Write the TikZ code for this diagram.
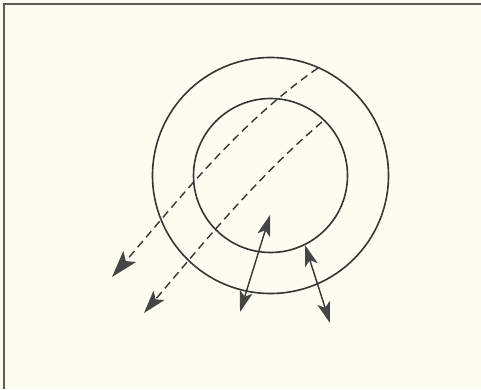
\documentclass[tikz,border=0pt]{standalone}
\usepackage{tikz}
\usetikzlibrary{arrows.meta}
\definecolor{dpaper}{HTML}{FDFCF1}
\definecolor{dink}{HTML}{353533}
\definecolor{dhead}{HTML}{454543}
\definecolor{dframe}{HTML}{5C5C58}

\begin{document}
\begin{tikzpicture}[x=1pt,y=-1pt,
    ring/.style={dink,line width=1.6pt},
    ray/.style={dink,line width=1.4pt,dash pattern=on 8pt off 5pt,
      -{Stealth[length=#1,width=0.62*#1,inset=0.22*#1,fill=dhead,dhead]}},
    swing/.style={dink,line width=1.4pt,
      {Stealth[length=21pt,width=13pt,inset=5pt,fill=dhead,dhead]}-{Stealth[length=21pt,width=13pt,inset=5pt,fill=dhead,dhead]}}]
  \useasboundingbox (0,0) rectangle (481,389);
  \fill[dpaper] (0,0) rectangle (481,389);
  \draw[dframe,line width=2pt] (4,389) -- (4,4) -- (481,4);

  % the two rings
  \coordinate (c) at (270.5,175.5);
  \draw[ring] (c) circle[radius=118pt];
  \draw[ring] (c) circle[radius=77pt];

  % dashed rays leaving to the lower left
  \coordinate (r1s) at (318,68);
  \coordinate (r1e) at (112,277);
  \coordinate (r2s) at (322,122);
  \coordinate (r2e) at (144,313);
  \draw[ray=27pt] (r1s) .. controls (237,124) and (176,203) .. (r1e);
  \draw[ray=23pt] (r2s) .. controls (256,178) and (200,247) .. (r2e);

  % double arrows across the rings
  \coordinate (s1a) at (240,312);
  \coordinate (s1b) at (270,215);
  \coordinate (s2a) at (305,245);
  \coordinate (s2b) at (330,323);
  \draw[swing] (s1a) -- (s1b);
  \draw[swing] (s2a) -- (s2b);
\end{tikzpicture}
\end{document}
